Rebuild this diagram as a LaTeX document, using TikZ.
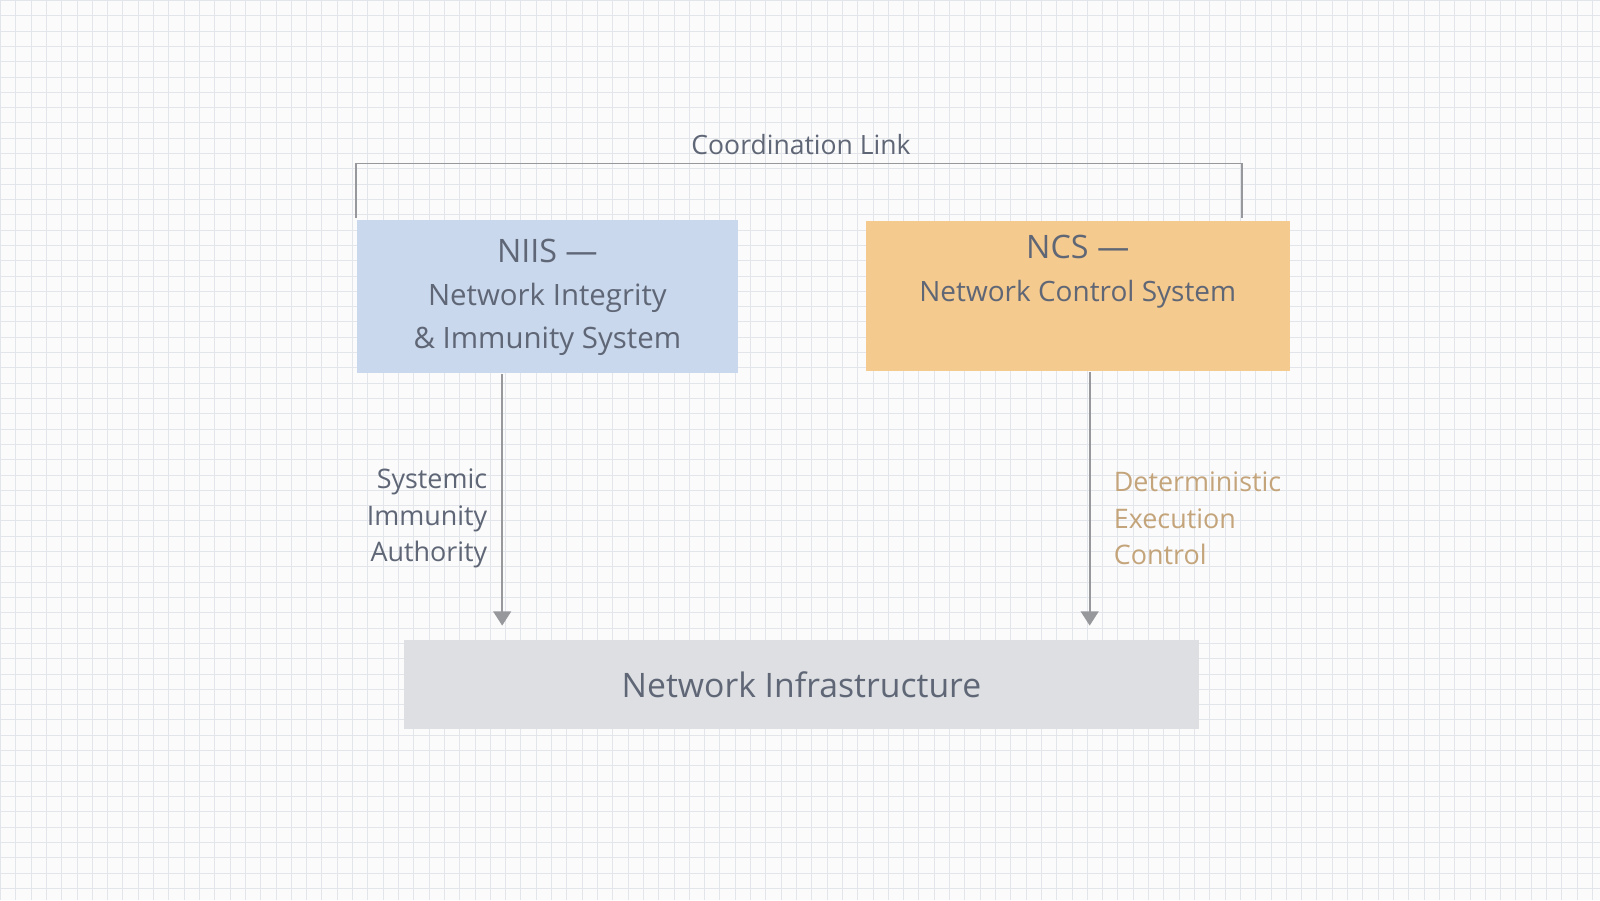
\documentclass[tikz,border=0pt]{standalone}
\usepackage{fontspec}
\setmainfont{Open Sans}
\usepackage{xcolor}
\usetikzlibrary{positioning,arrows.meta}
\definecolor{niisblue}{RGB}{201,216,236}
\definecolor{ncsorange}{RGB}{245,202,142}
\definecolor{infragray}{RGB}{221,223,226}
\definecolor{textgray}{RGB}{95,102,118}
\definecolor{tan}{RGB}{196,164,122}
\definecolor{linegray}{RGB}{150,152,156}
\definecolor{gridgray}{RGB}{226,230,234}

\begin{document}
\begin{tikzpicture}[x=0.01cm, y=-0.01cm,
    box/.style={rectangle, inner sep=0pt, align=center, text=textgray},
    label/.style={font=\fontsize{7.5}{10.2}\selectfont, inner sep=0pt},
    arrow/.style={-{Triangle[length=4pt,width=5pt]}, linegray, line width=0.5pt}
]

% Background
\fill[white!97!gray] (0,0) rectangle (1568,882);
\draw[gridgray, line width=0.2pt, step=0.15cm] (0,0) grid (1568,882);
\useasboundingbox (0,0) rectangle (1568,882);

% Systems
\node[box, fill=niisblue, minimum width=3.73cm, minimum height=1.5cm, anchor=north west] (niis) at (349,215)
  {\fontsize{9}{12.5}\selectfont NIIS ---\\\fontsize{8.2}{12.5}\selectfont Network Integrity\\\fontsize{8.2}{12.5}\selectfont \& Immunity System};
\node[box, fill=ncsorange, minimum width=4.15cm, minimum height=1.47cm, anchor=north west] (ncs) at (848,216)
  {\fontsize{9}{12.5}\selectfont NCS ---\\\fontsize{7.8}{12.5}\selectfont Network Control System\\\strut};

% Infrastructure
\node[box, fill=infragray, minimum width=7.79cm, minimum height=0.88cm, anchor=north west,
  font=\fontsize{9.4}{10}\selectfont] (infra) at (395,626) {Network Infrastructure};

% Coordination link
\coordinate (cl) at (349,213);
\coordinate (cr) at (1217,213);
\draw[linegray, line width=0.5pt] (cl) |- (785,160) node[above=-1pt, text=textgray, font=\fontsize{7.4}{9}\selectfont] (coord) {Coordination Link} -| (cr);

% Arrows
\coordinate (a1) at (492,613);
\coordinate (a2) at (1068,613);
\draw[arrow] (niis.south -| a1) -- (a1);
\draw[arrow] (ncs.south -| a2) -- (a2);

% Labels
\node[label, text=textgray, align=right, anchor=east] (sia) at (478,508) {Systemic\\Immunity\\Authority};
\node[label, text=tan, align=left, anchor=west] (dec) at (1091,508) {Deterministic\\Execution\\Control};

\end{tikzpicture}
\end{document}
